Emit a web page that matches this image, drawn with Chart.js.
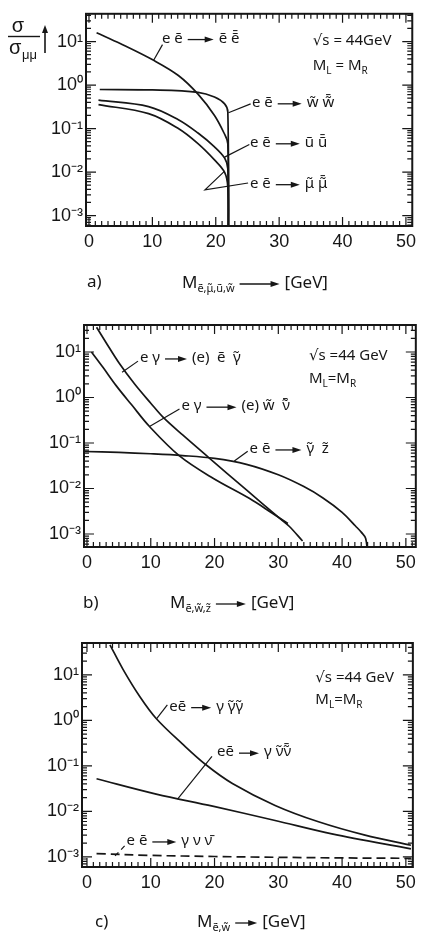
<!DOCTYPE html>
<html><head><meta charset="utf-8">
<script src="https://cdn.jsdelivr.net/npm/chart.js@4.4.1/dist/chart.umd.min.js"></script>
<style>
html,body{margin:0;padding:0;background:#fff;}
#wrap{position:relative;width:421px;height:938px;overflow:hidden;background:#fff;}
canvas{position:absolute;left:0;}
</style></head><body>
<div id="wrap">
<canvas id="ca" width="421" height="300" style="top:0px"></canvas>
<canvas id="cb" width="421" height="320" style="top:300px"></canvas>
<canvas id="cc" width="421" height="318" style="top:620px"></canvas>
</div>
<script>
// ---------- tick labels ----------
const xTickValues = [0, 10, 20, 30, 40, 50];
const yTickValues = [1e-3, 1e-2, 1e-1, 1, 10];
const yTickLabels = ['10\u207B\u00B3', '10\u207B\u00B2', '10\u207B\u00B9', '10\u2070', '10\u00B9'];

// ---------- panel a : e e -> sfermion / wino pairs ----------
const aSelectronM = [1.2, 5, 10.2, 14.1, 17.2, 19.8, 21.3, 21.9, 22];
const aSelectronSigma = [16, 8.9, 3.7, 1.66, 0.62, 0.2, 0.079, 0.045, 2e-4];
const aWinoM = [1.7, 10, 17.2, 19.8, 21.4, 21.9, 22];
const aWinoSigma = [0.79, 0.77, 0.68, 0.53, 0.37, 0.24, 2e-4];
const aSupM = [1.5, 9.4, 14.1, 17.2, 19.8, 21.4, 21.9, 22];
const aSupSigma = [0.45, 0.32, 0.16, 0.079, 0.038, 0.021, 0.012, 2e-4];
const aSmuM = [1.5, 9.4, 14.1, 17.2, 19.8, 21.4, 21.9, 22];
const aSmuSigma = [0.355, 0.22, 0.10, 0.045, 0.019, 0.0098, 0.0045, 2e-4];

// ---------- panel b ----------
const bSelPhotM = [1.5, 3, 5, 7.5, 10, 12, 15, 19, 25, 30, 31.7, 33.8];
const bSelPhotSigma = [35, 16, 5.8, 1.95, 0.75, 0.36, 0.15, 0.049, 0.0093, 0.00234, 0.00148, 0.0007];
const bWinoSnuM = [0.7, 2.5, 4.6, 7, 9.8, 14.5, 19.7, 25.5, 29, 31.5];
const bWinoSnuSigma = [10, 4.6, 1.8, 0.69, 0.23, 0.052, 0.017, 0.006, 0.0029, 0.0017];
const bPhotZinoM = [-0.4, 5, 10, 15, 20, 25, 30, 34, 37, 40, 42.1, 43, 43.7, 44];
const bPhotZinoSigma = [0.065, 0.062, 0.058, 0.053, 0.046, 0.034, 0.02, 0.011, 0.0062, 0.003, 0.0015, 0.0011, 0.0008, 0.00035];

// ---------- panel c ----------
const cPhotinoM = [3.6, 5.65, 8.3, 10.85, 15, 18.6, 22.8, 29.5, 36.3, 43.6, 50.8];
const cPhotinoSigma = [45.7, 13.2, 3.3, 1.1, 0.30, 0.107, 0.041, 0.0135, 0.0059, 0.003, 0.0018];
const cSnuM = [1.5, 10.85, 19.7, 29.5, 38.4, 50.8];
const cSnuSigma = [0.052, 0.024, 0.013, 0.0063, 0.0032, 0.0015];
const cNuM = [1.5, 10, 20, 30, 40, 50.8];
const cNuSigma = [0.00118, 0.00108, 0.00102, 0.00098, 0.00095, 0.00093];

// ---------- drawing ----------
const INK = '#161616';
const FONT = '"Liberation Sans", Arial, sans-serif';
const LFONT = '"Noto Sans", "DejaVu Sans", sans-serif';
Chart.defaults.font.family = FONT;
Chart.defaults.color = INK;

const toXY = (xs, ys) => xs.map((x, i) => ({x: x, y: ys[i]}));

function drawRich(ctx, x, y, segs, size) {
  let cx = x;
  ctx.textAlign = 'left';
  ctx.textBaseline = 'middle';
  for (const s of segs) {
    if (typeof s === 'string') {
      ctx.font = size + 'px ' + LFONT;
      ctx.fillText(s, cx, y);
      cx += ctx.measureText(s).width;
    } else if (s.sub !== undefined) {
      const fs = Math.round(size * 0.66);
      ctx.font = fs + 'px ' + LFONT;
      ctx.fillText(s.sub, cx, y + size * 0.34);
      cx += ctx.measureText(s.sub).width;
    } else if (s.arrow !== undefined) {
      const x0 = cx + 5, x1 = x0 + s.arrow, ay = y + 1;
      ctx.lineWidth = 1.3;
      ctx.beginPath(); ctx.moveTo(x0, ay); ctx.lineTo(x1 - 5, ay); ctx.stroke();
      ctx.beginPath(); ctx.moveTo(x1, ay); ctx.lineTo(x1 - 9, ay - 3); ctx.lineTo(x1 - 9, ay + 3); ctx.closePath(); ctx.fill();
      cx = x1 + 5;
    } else if (s.gap !== undefined) {
      cx += s.gap;
    }
  }
}

const deco = {
  id: 'deco',
  afterDraw(chart, args, o) {
    const ctx = chart.ctx, xs = chart.scales.x, ys = chart.scales.y, ca = chart.chartArea;
    const P = (x, y) => [xs.getPixelForValue(x), ys.getPixelForValue(y)];
    ctx.save();
    ctx.strokeStyle = INK; ctx.fillStyle = INK;
    ctx.lineWidth = 2;
    ctx.strokeRect(ca.left, ca.top, ca.right - ca.left, ca.bottom - ca.top);
    ctx.lineWidth = 1.2;
    ctx.beginPath();
    for (let v = Math.ceil(xs.min); v <= xs.max; v++) {
      const px = xs.getPixelForValue(v);
      const L = v % 10 === 0 ? 9 : 5;
      ctx.moveTo(px, ca.bottom); ctx.lineTo(px, ca.bottom - L);
      ctx.moveTo(px, ca.top); ctx.lineTo(px, ca.top + L);
    }
    for (let d = -4; d <= 2; d++) for (let m = 1; m <= 9; m++) {
      const v = m * Math.pow(10, d);
      if (v < ys.min || v > ys.max) continue;
      const py = ys.getPixelForValue(v);
      const L = m === 1 ? 10 : 5;
      ctx.moveTo(ca.left, py); ctx.lineTo(ca.left + L, py);
      ctx.moveTo(ca.right, py); ctx.lineTo(ca.right - L, py);
    }
    ctx.stroke();
    ctx.lineWidth = 1.2;
    for (const ld of (o.leaders || [])) {
      ctx.setLineDash(ld.dash ? [5, 4] : []);
      ctx.beginPath();
      ld.pts.forEach((p, i) => { const q = P(p[0], p[1]); if (i) ctx.lineTo(q[0], q[1]); else ctx.moveTo(q[0], q[1]); });
      ctx.stroke();
    }
    ctx.setLineDash([]);
    for (const n of (o.notes || [])) {
      const q = P(n.x, n.y);
      drawRich(ctx, q[0], q[1], n.segs, n.size || 15);
    }
    for (const n of (o.pixNotes || [])) {
      drawRich(ctx, n.px, n.py, n.segs, n.size || 17);
    }
    if (o.yTitle) {
      ctx.textAlign = 'center'; ctx.textBaseline = 'alphabetic';
      ctx.font = '20px ' + FONT;
      ctx.fillText('\u03C3', 18, 32);
      ctx.lineWidth = 1.4;
      ctx.beginPath(); ctx.moveTo(8, 36.5); ctx.lineTo(40, 36.5); ctx.stroke();
      ctx.textAlign = 'left';
      ctx.fillText('\u03C3', 9, 54);
      ctx.font = '13px ' + FONT;
      ctx.fillText('\u03BC\u03BC', 22, 59);
      ctx.lineWidth = 1.6;
      ctx.beginPath(); ctx.moveTo(45, 53); ctx.lineTo(45, 31); ctx.stroke();
      ctx.beginPath(); ctx.moveTo(45, 25); ctx.lineTo(42, 33); ctx.lineTo(48, 33); ctx.closePath(); ctx.fill();
    }
    ctx.restore();
  }
};

function line(xs, ys, dash) {
  return {
    data: toXY(xs, ys), borderColor: INK, borderWidth: 1.7, pointRadius: 0,
    tension: 0.35, fill: false, borderDash: dash ? [9, 5] : []
  };
}

function makePanel(id, H, frame, xr, yr, datasets, deco_opts) {
  new Chart(document.getElementById(id), {
    type: 'line',
    data: {datasets: datasets},
    options: {
      responsive: false, animation: false, devicePixelRatio: 1,
      layout: {padding: {left: 0, right: 421 - frame.right, top: frame.top, bottom: 0}},
      plugins: {legend: {display: false}, tooltip: {enabled: false}, deco: deco_opts},
      scales: {
        x: {
          type: 'linear', min: xr[0], max: xr[1],
          grid: {display: false, drawTicks: false}, border: {display: false},
          afterBuildTicks: s => { s.ticks = xTickValues.map(v => ({value: v})); },
          ticks: {font: {size: 18}, color: INK, padding: 5, maxRotation: 0, autoSkip: false,
                  callback: v => String(v)},
          afterFit: s => { s.height = H - frame.bottom; }
        },
        y: {
          type: 'logarithmic', min: yr[0], max: yr[1],
          grid: {display: false, drawTicks: false}, border: {display: false},
          afterBuildTicks: s => { s.ticks = yTickValues.map(v => ({value: v})); },
          ticks: {font: {size: 18}, color: INK, padding: 3, autoSkip: false,
                  callback: (v, i) => yTickLabels[i]},
          afterFit: s => { s.width = frame.left; }
        }
      }
    },
    plugins: [deco]
  });
}

// panel a
makePanel('ca', 300, {left: 86, top: 4, right: 418, bottom: 226}, [-0.47, 51.0], [5.75e-4, 43.4], [
  line(aSelectronM, aSelectronSigma), line(aWinoM, aWinoSigma), line(aSupM, aSupSigma), line(aSmuM, aSmuSigma)
], {
  yTitle: true,
  notes: [
    {x: 11.5, y: 11.7, segs: ['e \u0113', {arrow: 26}, '\u1EBD \u1EBD\u0304']},
    {x: 35.3, y: 10.5, segs: ['\u221As = 44GeV']},
    {x: 35.3, y: 2.8, segs: ['M', {sub: 'L'}, ' = M', {sub: 'R'}]},
    {x: 25.7, y: 0.39, segs: ['e \u0113', {arrow: 24}, 'w\u0303 w\u0303\u0304']},
    {x: 25.4, y: 0.047, segs: ['e \u0113', {arrow: 24}, '\u0169 \u0169\u0304']},
    {x: 25.4, y: 0.0054, segs: ['e \u0113', {arrow: 24}, '\u03BC\u0303 \u03BC\u0303\u0304']}
  ],
  leaders: [
    {pts: [[11.6, 8.5], [10.2, 3.7]]},
    {pts: [[25.5, 0.37], [22.0, 0.23]]},
    {pts: [[25.3, 0.043], [21.4, 0.022]]},
    {pts: [[21.4, 0.0105], [18.3, 0.0039], [25.1, 0.0056]]}
  ],
  pixNotes: [
    {px: 87, py: 282, segs: ['a)']},
    {px: 182, py: 283, segs: ['M', {sub: '\u1EBD,\u03BC\u0303,\u0169,w\u0303'}, {arrow: 40}, '[GeV]']}
  ]
});

// panel b
makePanel('cb', 320, {left: 84, top: 25, right: 417, bottom: 247}, [-0.47, 51.56], [5.18e-4, 39.2], [
  line(bSelPhotM, bSelPhotSigma), line(bWinoSnuM, bWinoSnuSigma), line(bPhotZinoM, bPhotZinoSigma)
], {
  notes: [
    {x: 8.3, y: 7.4, segs: ['e \u03B3', {arrow: 22}, '(e)\u2002\u1EBD\u2002\u03B3\u0303']},
    {x: 34.8, y: 8.1, segs: ['\u221As =44 GeV']},
    {x: 34.8, y: 2.57, segs: ['M', {sub: 'L'}, '=M', {sub: 'R'}]},
    {x: 14.8, y: 0.645, segs: ['e \u03B3', {arrow: 30}, '(e) w\u0303\u2002\u03BD\u0303\u0304']},
    {x: 25.5, y: 0.074, segs: ['e \u0113', {arrow: 26}, '\u03B3\u0303\u2002z\u0303']}
  ],
  leaders: [
    {pts: [[8.0, 6.3], [5.5, 3.6]]},
    {pts: [[14.5, 0.56], [9.8, 0.23]]},
    {pts: [[25.2, 0.066], [23.1, 0.040]]}
  ],
  pixNotes: [
    {px: 83, py: 303, segs: ['b)']},
    {px: 170, py: 303, segs: ['M', {sub: '\u1EBD,w\u0303,z\u0303'}, {arrow: 30}, '[GeV]']}
  ]
});

// panel c
makePanel('cc', 318, {left: 82, top: 23, right: 415, bottom: 247}, [-0.78, 51.1], [6.35e-4, 50], [
  line(cPhotinoM, cPhotinoSigma), line(cSnuM, cSnuSigma), line(cNuM, cNuSigma, true)
], {
  notes: [
    {x: 35.8, y: 8.5, segs: ['\u221As =44 GeV']},
    {x: 35.8, y: 2.8, segs: ['M', {sub: 'L'}, '=M', {sub: 'R'}]},
    {x: 12.9, y: 2.0, segs: ['e\u0113', {arrow: 20}, '\u03B3 \u03B3\u0303\u03B3\u0303']},
    {x: 20.4, y: 0.2, segs: ['e\u0113', {arrow: 20}, '\u03B3 \u03BD\u0303\u03BD\u0303\u0304']},
    {x: 6.2, y: 0.00224, segs: ['e \u0113', {arrow: 24}, '\u03B3 \u03BD \u03BD\u0304']}
  ],
  leaders: [
    {pts: [[12.6, 2.19], [10.9, 1.08]]},
    {pts: [[19.6, 0.162], [14.2, 0.0186]]},
    {pts: [[5.9, 0.00174], [4.4, 0.00105]], dash: true}
  ],
  pixNotes: [
    {px: 95, py: 302, segs: ['c)']},
    {px: 197, py: 302, segs: ['M', {sub: '\u1EBD,w\u0303'}, {arrow: 22}, '[GeV]']}
  ]
});
</script>
</body></html>
